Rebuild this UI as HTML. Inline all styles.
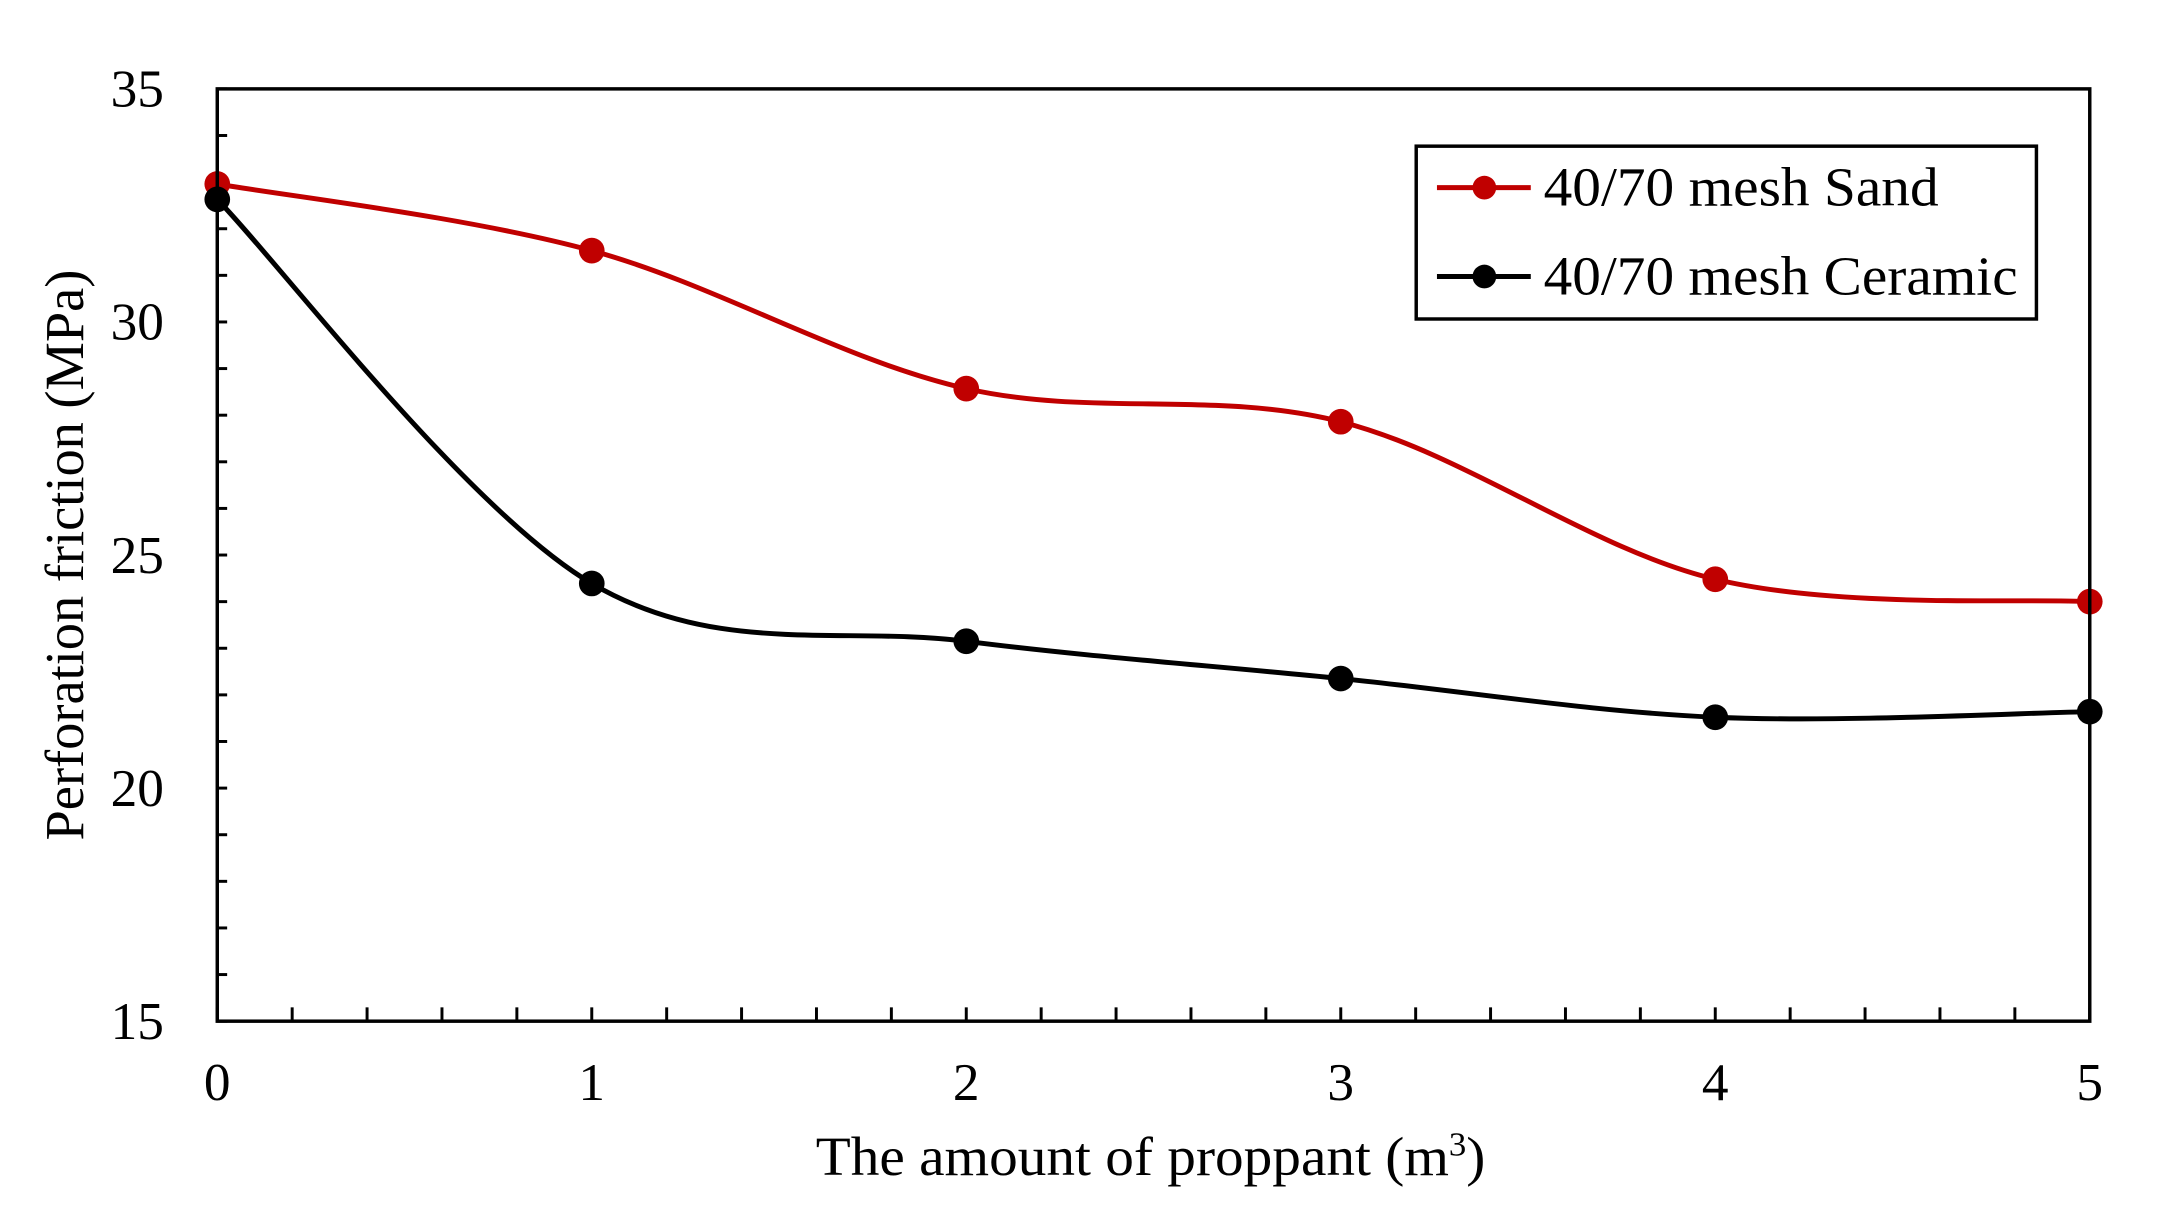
<!DOCTYPE html>
<html><head><meta charset="utf-8"><style>
html,body{margin:0;padding:0;background:#fff;}
svg{display:block;font-family:"Liberation Serif",serif;}
</style></head><body>
<svg id="chart" width="2166" height="1227" viewBox="0 0 2166 1227" xmlns="http://www.w3.org/2000/svg">
<g transform="scale(0.9876)">
<g id="grid"></g>
<g id="series"></g>
<rect x="220" y="90" width="1896" height="944" fill="none" stroke="#000" stroke-width="3.5"/>
<g>
<rect x="1434" y="148" width="628" height="175" fill="#fff" stroke="#000" stroke-width="3.5"/>
<g>
<line x1="1455" y1="190" x2="1550" y2="190" stroke="#c00000" stroke-width="5"/>
<circle cx="1503" cy="190" r="12" fill="#c00000"/>
<text x="1563" y="208" font-size="56" textLength="400" lengthAdjust="spacingAndGlyphs">40/70 mesh Sand</text>
</g>
<g>
<line x1="1455" y1="280" x2="1550" y2="280" stroke="#000" stroke-width="5"/>
<circle cx="1503" cy="280" r="12" fill="#000"/>
<text x="1563" y="298" font-size="56" textLength="480" lengthAdjust="spacingAndGlyphs">40/70 mesh Ceramic</text>
</g>
</g>
<text x="826" y="1190" font-size="56" textLength="678" lengthAdjust="spacingAndGlyphs">The amount of proppant (m<tspan font-size="34" dy="-20">3</tspan><tspan dy="20">)</tspan></text>
<text transform="translate(84,562) rotate(-90)" text-anchor="middle" font-size="56" textLength="578" lengthAdjust="spacingAndGlyphs">Perforation friction (MPa)</text>
</g>
</svg>
<script>
const categories = [0, 1, 2, 3, 4, 5];
const sandValues = [32.96, 31.53, 28.57, 27.86, 24.48, 24.0];
const ceramicValues = [32.63, 24.39, 23.15, 22.35, 21.52, 21.64];
const xTickLabels = ["0", "1", "2", "3", "4", "5"];
const yTickLabels = ["15", "20", "25", "30", "35"];

const NS = "http://www.w3.org/2000/svg";
const L = 220, R = 2116, T = 90, B = 1034;
const xMin = 0, xMax = 5, yMin = 15, yMax = 35;
function xs(v){ return L + (v - xMin) / (xMax - xMin) * (R - L); }
function ys(v){ return B - (v - yMin) / (yMax - yMin) * (B - T); }
function mk(tag, attrs){ const e = document.createElementNS(NS, tag); for (const k in attrs) e.setAttribute(k, attrs[k]); return e; }

const grid = document.getElementById('grid');
for (let i = 0; i <= 25; i++) {
  const v = i * 0.2;
  const major = i % 5 === 0;
  const t = mk('line', {x1: xs(v), x2: xs(v), y1: B, y2: B - 14, stroke: '#000', 'stroke-width': 3});
  
  
  grid.appendChild(t);
}
xTickLabels.forEach((lab) => {
  const t = mk('text', {x: xs(Number(lab)), y: 1114, 'font-size': 54, 'text-anchor': 'middle'});
  t.textContent = lab;
  
  
  grid.appendChild(t);
});
for (let v = yMin; v <= yMax; v++) {
  const t = mk('line', {x1: L, x2: L + 10, y1: ys(v), y2: ys(v), stroke: '#000', 'stroke-width': 3});
  
  
  grid.appendChild(t);
}
yTickLabels.forEach(lab => {
  const t = mk('text', {x: 166, y: ys(Number(lab)) + 18, 'font-size': 54, 'text-anchor': 'end'});
  t.textContent = lab;
  
  
  grid.appendChild(t);
});

function smoothPath(pts){
  let d = `M${pts[0][0]},${pts[0][1]}`;
  for (let i = 0; i < pts.length - 1; i++) {
    const p0 = pts[i - 1] || pts[i], p1 = pts[i], p2 = pts[i + 1], p3 = pts[i + 2] || p2;
    const c1x = p1[0] + (p2[0] - p0[0]) / 6, c1y = p1[1] + (p2[1] - p0[1]) / 6;
    const c2x = p2[0] - (p3[0] - p1[0]) / 6, c2y = p2[1] - (p3[1] - p1[1]) / 6;
    d += ` C${c1x},${c1y} ${c2x},${c2y} ${p2[0]},${p2[1]}`;
  }
  return d;
}
const series = document.getElementById('series');
function drawSeries(vals, color, name){
  const pts = categories.map((c, i) => [xs(c), ys(vals[i])]);
  const p = mk('path', {d: smoothPath(pts), fill: 'none', stroke: color, 'stroke-width': 5});
  
  
  series.appendChild(p);
  pts.forEach(pt => {
    const c = mk('circle', {cx: pt[0], cy: pt[1], r: 13, fill: color});
    
    
    series.appendChild(c);
  });
}
drawSeries(sandValues, '#c00000', 'sand');
drawSeries(ceramicValues, '#000000', 'ceramic');
</script>
</body></html>
